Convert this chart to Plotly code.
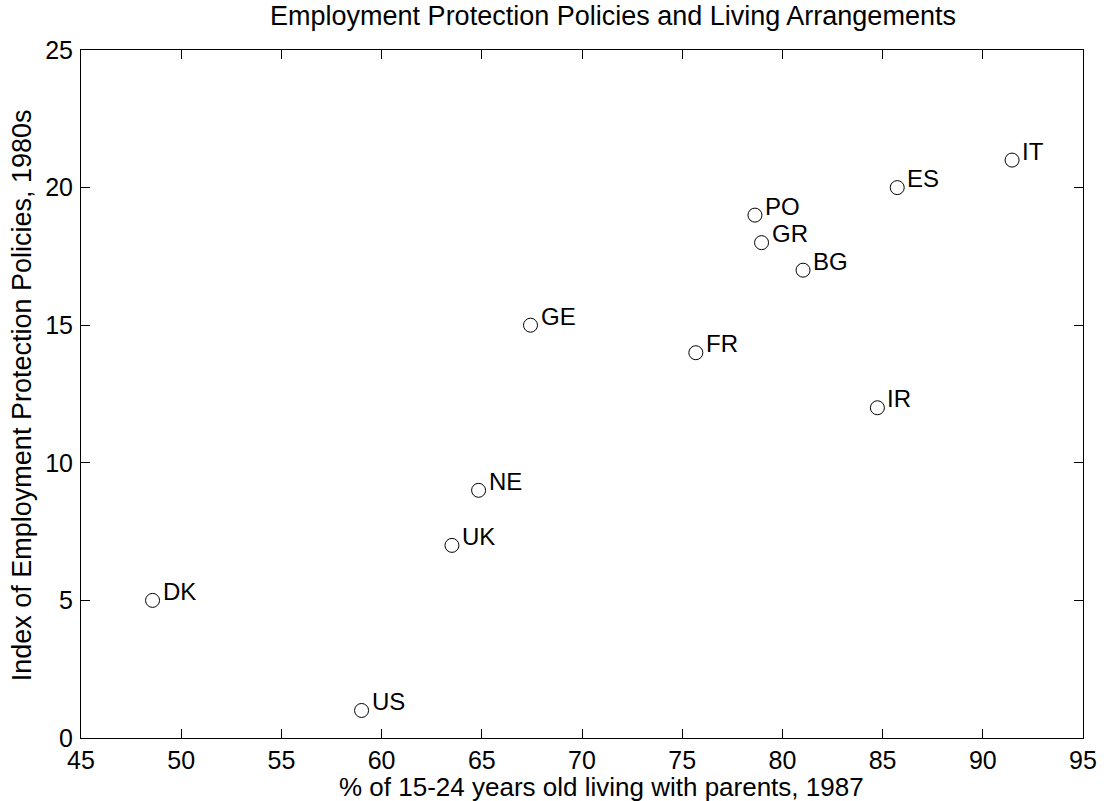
import plotly.graph_objects as go

countries = ["DK", "US", "UK", "NE", "GE", "FR", "PO", "GR", "BG", "IR", "ES", "IT"]
pct_with_parents = [48.57, 59.0, 63.51, 64.84, 67.43, 75.68, 78.63, 78.96, 81.03, 84.74, 85.73, 91.46]
epl_index = [5, 1, 7, 9, 15, 14, 19, 18, 17, 12, 20, 21]

x_ticks = [45, 50, 55, 60, 65, 70, 75, 80, 85, 90, 95]
y_ticks = [0, 5, 10, 15, 20, 25]

title_text = "Employment Protection Policies and Living Arrangements"
x_title = "% of 15-24 years old living with parents, 1987"
y_title = "Index of Employment Protection Policies, 1980s"

FONT = "Liberation Sans, Arial, sans-serif"
W, H = 1109, 801
ML, MR, MT, MB = 81, 22, 50, 63
PW, PH = W - ML - MR, H - MT - MB

fig = go.Figure()
fig.add_trace(go.Scatter(
    x=pct_with_parents, y=epl_index, mode="markers",
    marker=dict(symbol="circle-open", size=14, color="black", line=dict(width=1, color="black")),
    showlegend=False, hoverinfo="skip",
))

for c, xv, yv in zip(countries, pct_with_parents, epl_index):
    fig.add_annotation(x=xv, y=yv, text=c, showarrow=False, xanchor="left", yanchor="middle",
                       xshift=8, yshift=9, font=dict(family=FONT, size=24, color="black"))

# axis titles as paper-positioned annotations
fig.add_annotation(xref="paper", yref="paper", x=(604 - ML) / PW, y=(H - MB - 787) / PH,
                   text=x_title, showarrow=False, xanchor="center", yanchor="middle",
                   font=dict(family=FONT, size=26, color="black"))
fig.add_annotation(xref="paper", yref="paper", x=(22 - ML) / PW, y=(H - MB - 395) / PH,
                   text=y_title, showarrow=False, textangle=-90, xanchor="center", yanchor="middle",
                   font=dict(family=FONT, size=27, color="black"))

axis_common = dict(showgrid=False, zeroline=False, showline=True, linecolor="black", linewidth=1,
                   mirror="ticks", ticks="inside", ticklen=9, tickwidth=1, tickcolor="black",
                   tickfont=dict(family=FONT, size=25, color="black"))

fig.update_xaxes(range=[45, 95], tickvals=x_ticks, ticktext=[str(v) for v in x_ticks], **axis_common)
fig.update_yaxes(range=[0, 25], tickvals=y_ticks, ticktext=[str(v) for v in y_ticks],
                 ticklabelstandoff=2, **axis_common)

fig.update_layout(
    width=W, height=H,
    margin=dict(l=ML, r=MR, t=MT, b=MB),
    paper_bgcolor="white", plot_bgcolor="white",
    title=dict(text=title_text, x=613 / W, xanchor="center",
               y=1 - 16 / H, yanchor="middle", font=dict(family=FONT, size=27, color="black")),
)

fig.write_html("out.html", config={"displayModeBar": False},
               post_script="document.body.style.margin='0';document.body.style.overflow='hidden';")
